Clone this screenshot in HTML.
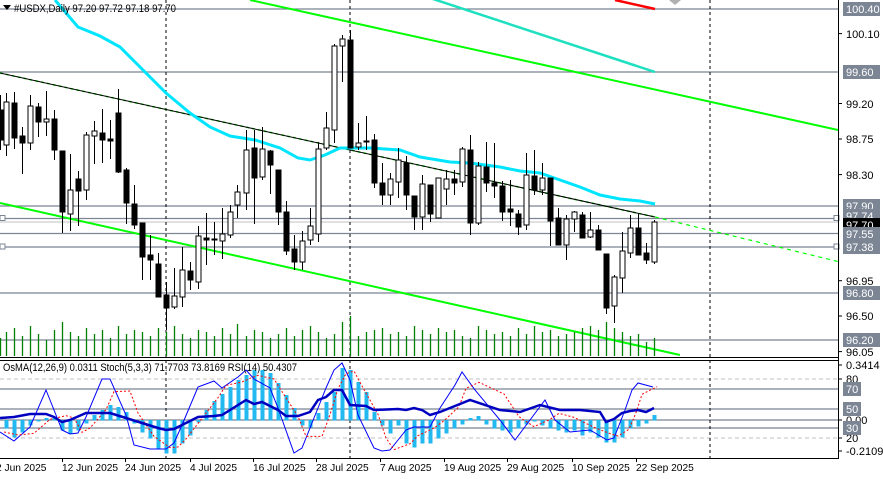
<!DOCTYPE html>
<html><head><meta charset="utf-8"><style>
html,body{margin:0;padding:0;background:#fff;}
svg{display:block;font-family:"Liberation Sans",sans-serif;font-size:11px;}
</style></head><body>
<svg id="s" width="883" height="479" viewBox="0 0 883 479" xmlns="http://www.w3.org/2000/svg">
<rect width="883" height="479" fill="#fff"/>
<g id="g"></g>
<text x="14" y="12" fill="#000" textLength="162" lengthAdjust="spacingAndGlyphs">#USDX,Daily  97.20 97.72 97.18 97.70</text>
<polygon points="3,5 11,5 7,10" fill="#000"/>
<text x="3" y="371" fill="#000" textLength="294" lengthAdjust="spacingAndGlyphs">OsMA(12,26,9) 0.0311  Stoch(5,3,3) 71.7703 73.8169  RSI(14) 50.4307</text>
<g fill="#000">
<text x="846" y="38">100.10</text>
<text x="846" y="108">99.20</text>
<text x="846" y="143">98.75</text>
<text x="846" y="179">98.30</text>
<text x="846" y="285">96.95</text>
<text x="846" y="320">96.50</text>
<text x="846" y="356">96.05</text>
<text x="846" y="369">0.3414</text>
<text x="846" y="383">80</text>
<text x="846" y="424">0.00</text>
<text x="846" y="442">20</text>
<text x="846" y="455">-0.2109</text>
</g>
<g id="lbl" fill="#fff"></g>
<g fill="#000" font-size="10.2">
<text x="-4" y="471">2 Jun 2025</text>
<text x="62" y="471">12 Jun 2025</text>
<text x="125" y="471">24 Jun 2025</text>
<text x="190" y="471">4 Jul 2025</text>
<text x="253" y="471">16 Jul 2025</text>
<text x="316" y="471">28 Jul 2025</text>
<text x="380" y="471">7 Aug 2025</text>
<text x="444" y="471">19 Aug 2025</text>
<text x="507" y="471">29 Aug 2025</text>
<text x="572" y="471">10 Sep 2025</text>
<text x="636" y="471">22 Sep 2025</text>
</g>
</svg>
<script>
var g=document.getElementById('g'),NS='http://www.w3.org/2000/svg';
function el(t,a){var e=document.createElementNS(NS,t);for(var k in a)e.setAttribute(k,a[k]);g.appendChild(e);return e;}
function pl(p,c,w,d){el('polyline',{points:p.map(function(q){return q.join(',')}).join(' '),fill:'none',stroke:c,'stroke-width':w,'stroke-dasharray':d||'none'});}
var GR='#7b8594';
[9,72,206,218.5,233.5,247,293,340].forEach(function(y){el('line',{x1:0,x2:838,y1:y,y2:y,stroke:GR,'stroke-width':1.2});});
el('line',{x1:0,x2:838,y1:222,y2:222,stroke:'#c0c0c0','stroke-width':1});
[389,409,420,428].forEach(function(y){el('line',{x1:0,x2:838,y1:y,y2:y,stroke:GR,'stroke-width':1.2});});
[379,438].forEach(function(y){el('line',{x1:0,x2:838,y1:y,y2:y,stroke:'#c0c0c0','stroke-width':1,'stroke-dasharray':'4,3'});});
[166,350,710].forEach(function(x){el('line',{x1:x,x2:x,y1:0,y2:458,stroke:'#000','stroke-width':1,'stroke-dasharray':'3,3'});});
el('line',{x1:250,y1:0,x2:838,y2:130,stroke:'#00ff00','stroke-width':2});
el('line',{x1:0,y1:203,x2:680,y2:355,stroke:'#00ff00','stroke-width':2});
el('line',{x1:0,y1:73,x2:655,y2:217,stroke:'#00dd00','stroke-width':1.5,'stroke-dasharray':'3,3'});
el('line',{x1:0,y1:73,x2:655,y2:217,stroke:'#000','stroke-width':1});
el('line',{x1:655,y1:217,x2:840,y2:262,stroke:'#00ff00','stroke-width':1.2,'stroke-dasharray':'4,4'});
el('line',{x1:615,y1:0,x2:655,y2:9,stroke:'#ff0000','stroke-width':2.5});
el('line',{x1:430,y1:-2,x2:655,y2:72,stroke:'#1ee0c0','stroke-width':2.5});
el('polygon',{points:'669,0 681,0 675,5',fill:'#b0b0b0'});
pl([[55,0],[78,27],[100,36],[120,47],[133,60],[145,72],[166,93],[190,113],[210,127],[230,136],[255,140],[280,148],[298,158],[310,160],[325,155],[340,148],[370,148],[400,150],[420,157],[450,162],[470,163],[500,167],[520,171],[540,173],[560,180],[580,187],[600,195],[620,199],[640,201],[655,204]],'#00e5ff',3);
[[0,218.5],[834,218.5],[0,247],[834,247]].forEach(function(p){el('rect',{x:p[0],y:p[1]-3,width:5,height:5,fill:'#fff',stroke:GR});});
var C=[[0,110,140,95,150],[6,145,102,93,156],[14,103,138,92,149],[22,136,143,127,174],[30,143,106,95,150],[38,107,122,103,137],[46,122,119,91,136],[54,119,150,110,160],[62,151,212,151,233],[70,214,190,154,231],[78,179,191,171,226],[86,190,135,132,200],[94,136,131,121,164],[102,133,140,109,163],[110,139,141,120,159],[118,113,172,89,173],[126,170,203,168,224],[134,204,225,185,229],[142,223,257,223,280],[150,255,260,235,280],[158,264,297,253,297],[166,295,308,282,330],[174,307,296,268,309],[182,297,270,247,307],[190,271,280,262,290],[198,282,236,226,289],[206,238,240,213,265],[214,239,240,222,255],[222,241,234,208,259],[230,235,212,205,238],[237,205,192,185,218],[246,193,150,130,210],[254,148,178,130,224],[262,177,149,127,180],[270,151,165,150,194],[278,170,212,170,225],[286,212,251,201,255],[294,249,262,235,270],[302,262,241,231,270],[310,240,226,208,245],[318,234,149,142,242],[326,148,128,112,150],[334,130,46,44,143],[342,46,39,35,82],[350,40,148,30,148],[358,147,143,123,150],[366,141,142,116,150],[374,140,183,134,188],[382,183,195,163,205],[390,195,179,173,205],[398,182,160,148,198],[406,163,195,156,210],[414,196,217,196,230],[422,217,184,175,230],[430,185,214,185,222],[438,218,178,178,218],[446,189,179,170,205],[454,179,183,170,195],[462,182,149,147,187],[470,150,223,135,235],[478,223,166,162,225],[486,167,183,142,192],[494,183,186,143,198],[502,186,212,181,221],[510,209,212,180,226],[518,214,227,210,235],[526,225,175,153,230],[534,176,190,150,195],[542,190,178,163,195],[550,178,221,178,246],[558,218,245,208,245],[566,245,219,215,260],[574,219,212,211,232],[582,215,238,212,238],[590,237,230,212,238],[598,230,250,225,250],[606,254,308,254,314],[614,306,277,275,323],[622,278,251,232,293],[630,253,228,215,258],[638,228,255,214,255],[646,253,260,243,264],[654,262,222,220,264]];
C.forEach(function(c,i){
 var x=c[0]+0.5;
 el('line',{x1:x,x2:x,y1:c[3],y2:c[4],stroke:'#000','stroke-width':1});
 var t=Math.min(c[1],c[2]),b=Math.max(c[1],c[2]);if(b-t<1)b=t+1;
 var white=c[2]<c[1];
 el('rect',{x:c[0]-2,y:t,width:5,height:b-t,fill:white?'#fff':'#000',stroke:'#000','stroke-width':1});
 var h=[18,24,28,20,30,22,16,26,34,24,20,28,22,26,18,30,22,26,24,20,28,24,30,22,18,26,24,20,28,22,32,20,26,24,18,22,28,20,26,30,24,18,22,34,40,20,24,26,28,22,24,20,30,26,22,28,24,26,20,18,30,26,22,24,20,28,22,30,24,26,20,22,24,28,30,26,34,28,24,20,22,14][i%82];
 el('line',{x1:x,x2:x,y1:356-h,y2:356,stroke:'#008000','stroke-width':1.3});
});
var H={6:428,14:437,22:432,30:425,38:421,46:418,54:418,62:430,70:433,78:430,86:423,94:415,102:410,110:405,118:407,126:412,134:423,142:432,150:438,158:448,166:453,174:453,182:443,190:435,198:422,206:410,214:401,222:394,230:387,238:380,246:375,254:370,262:370,270:373,278:383,286:395,294:408,302:425,310:427,318:413,326:402,334:392,342:368,350:370,358:382,366:392,374:412,382:425,390:433,398:425,406:443,414:447,422:443,430:443,438:438,446:433,454:428,462:424,470:418,478:416,486:424,494:428,502:430,510:432,518:428,526:424,534:421,542:425,550:428,558:430,566:432,574:430,582:435,590:432,598:437,606:442,614:442,622:437,630:428,638:426,646:423,654:415};
for(var k in H){var y=H[k];el('rect',{x:+k-1.5,y:Math.min(y,420),width:4,height:Math.abs(y-420)+0.5,fill:'#22b8f0'});}
var S=[[0,432],[14,441],[30,427],[46,390],[62,430],[70,434],[78,433],[86,417],[102,379],[110,379],[126,415],[134,445],[150,449],[166,449],[174,443],[182,425],[198,387],[214,381],[222,388],[238,377],[246,370],[254,379],[270,388],[278,408],[294,453],[302,448],[318,408],[326,388],[334,370],[342,363],[350,380],[358,415],[374,448],[382,451],[390,450],[406,430],[414,427],[430,427],[440,408],[455,385],[462,372],[475,390],[500,420],[515,440],[530,420],[545,400],[555,420],[570,432],[590,430],[607,440],[614,438],[625,410],[632,390],[638,383],[653,387]];
pl(S,'#0000ff',1);
var R=S.map(function(p,i){var a=S[Math.max(0,i-1)],b=S[Math.max(0,i-2)];return [p[0]+4,(p[1]+a[1]+b[1])/3];});
pl(R,'#ff0000',1,'2,2');
pl([[0,418],[14,417],[30,414],[46,414],[54,417],[62,422],[70,420],[86,413],[110,413],[126,418],[142,423],[158,428],[166,430],[174,429],[182,425],[198,417],[214,416],[222,415],[246,400],[254,404],[262,402],[278,410],[286,416],[298,416],[310,412],[318,400],[326,397],[334,390],[342,390],[350,405],[366,406],[374,410],[398,409],[406,410],[414,408],[422,410],[430,415],[440,412],[470,400],[500,410],[520,412],[540,405],[560,410],[580,410],[600,412],[606,422],[614,419],[622,413],[630,411],[638,410],[646,412],[654,408]],'#0000c0',2.5);
el('line',{x1:838.5,x2:838.5,y1:0,y2:458,stroke:'#000'});
el('line',{x1:0,x2:839,y1:357.5,y2:357.5,stroke:'#000'});
el('line',{x1:0,x2:839,y1:360.5,y2:360.5,stroke:'#000'});
el('line',{x1:0,x2:839,y1:458.5,y2:458.5,stroke:'#000'});
[33.6,103.5,139,174.6,280.7,316,351.6,365,379,420,438,451].forEach(function(y){el('line',{x1:838,x2:842,y1:y,y2:y,stroke:'#000'});});
[62,125,190,253,316,380,444,507,572,636].forEach(function(x){el('line',{x1:x+0.5,x2:x+0.5,y1:458,y2:462,stroke:'#000'});});
var L=document.getElementById('lbl');
[[9,'100.40',GR],[72,'99.60',GR],[206,'97.90',GR],[216,'97.74',GR],[225,'97.70','#000'],[234,'97.55',GR],[247,'97.38',GR],[293,'96.80',GR],[340,'96.20',GR],[389,'70',GR],[409,'50',GR],[428,'30',GR]].forEach(function(a){
 var r=document.createElementNS(NS,'rect');var w=a[1].length>3?37:18;
 r.setAttribute('x',843);r.setAttribute('y',a[0]-7);r.setAttribute('width',w);r.setAttribute('height',14);r.setAttribute('fill',a[2]);L.appendChild(r);
 var t=document.createElementNS(NS,'text');t.setAttribute('x',846);t.setAttribute('y',a[0]+4);t.textContent=a[1];L.appendChild(t);
});
</script>
</body></html>
